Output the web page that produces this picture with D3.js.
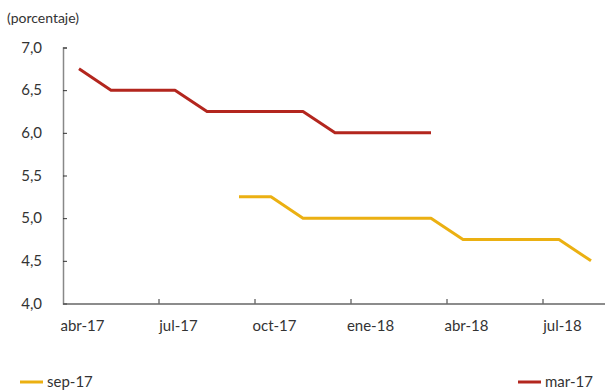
<!DOCTYPE html>
<html><head><meta charset="utf-8">
<script src="https://cdn.jsdelivr.net/npm/d3@7"></script>
<style>body{margin:0;background:#fff}svg{display:block}text{font-family:Lato,"Open Sans",sans-serif;fill:#333}</style>
</head><body>
<script>
const months = ["abr-17","may-17","jun-17","jul-17","ago-17","sep-17","oct-17","nov-17","dic-17","ene-18","feb-18","mar-18","abr-18","may-18","jun-18","jul-18","ago-18"];
const tickLabels = ["abr-17","jul-17","oct-17","ene-18","abr-18","jul-18"];
const yTicks = [4.0,4.5,5.0,5.5,6.0,6.5,7.0];
const mar17 = [6.75,6.5,6.5,6.5,6.25,6.25,6.25,6.25,6.0,6.0,6.0,6.0,null,null,null,null,null];
const sep17 = [null,null,null,null,null,5.25,5.25,5.0,5.0,5.0,5.0,5.0,4.75,4.75,4.75,4.75,4.5];
const colors = {"sep-17":"#ebb012","mar-17":"#b3261e"};

const W=605,H=390;
const svg=d3.select("body").append("svg").attr("width",W).attr("height",H);
const x=d3.scaleBand().domain(months).range([63,607]).padding(0);
const y=d3.scaleLinear().domain([4,7]).range([303.5,47.5]);
const fmt=d3.format(".1f");

svg.append("text").attr("x",7).attr("y",23).style("font-size","14px").text("(porcentaje)");

// y axis
const ya=svg.append("g").attr("transform","translate(63,0)")
 .call(d3.axisLeft(y).tickValues(yTicks).tickSize(-4).tickPadding(21).tickFormat(d=>fmt(d).replace(".",",")));
ya.select(".domain").attr("stroke","#888").attr("stroke-width",1.5);
ya.selectAll(".tick line").attr("stroke","#333");
ya.selectAll("text").style("font-size","15px").attr("fill","#333");

// x axis
const xa=svg.append("g").attr("transform","translate(0,303.5)")
 .call(d3.axisBottom(x).tickValues(tickLabels).tickSize(0).tickPadding(17));
xa.select(".domain").attr("stroke","#666").attr("stroke-width",1.5);
xa.selectAll("text").style("font-size","15px").attr("fill","#333").attr("dx",3.5);
// tick marks at band boundaries
const bound = tickLabels.slice(1).map(m=>x(m));
svg.append("g").selectAll("line").data(bound).join("line")
 .attr("x1",d=>d).attr("x2",d=>d).attr("y1",303.5).attr("y2",299).attr("stroke","#333").attr("stroke-width",1);

const line=d3.line().defined(d=>d!=null).x((d,i)=>x(months[i])+x.bandwidth()/2).y(d=>y(d));
svg.append("path").datum(mar17).attr("d",line).attr("fill","none").attr("stroke",colors["mar-17"]).attr("stroke-width",3).attr("stroke-linejoin","round");
svg.append("path").datum(sep17).attr("d",line).attr("fill","none").attr("stroke",colors["sep-17"]).attr("stroke-width",3).attr("stroke-linejoin","round");

// legend
const leg=[{n:"sep-17",x:20},{n:"mar-17",x:518}];
leg.forEach(l=>{
 svg.append("line").attr("x1",l.x).attr("x2",l.x+23).attr("y1",382).attr("y2",382).attr("stroke",colors[l.n]).attr("stroke-width",3);
 svg.append("text").attr("x",l.x+27).attr("y",387).style("font-size","15px").text(l.n);
});
</script>
</body></html>
